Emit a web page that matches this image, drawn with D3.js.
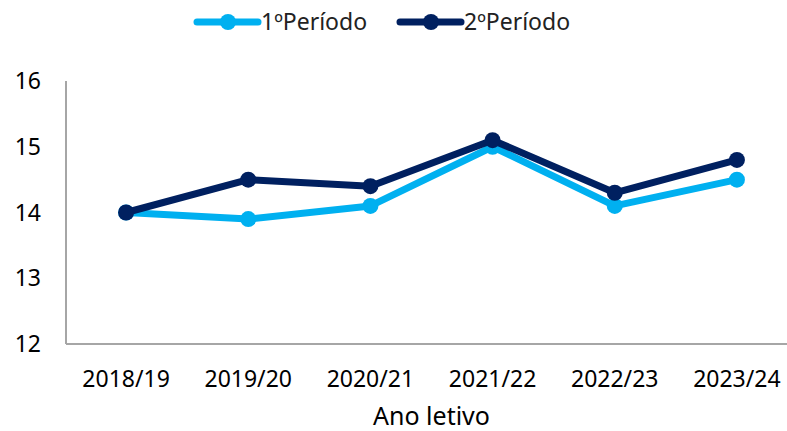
<!DOCTYPE html>
<html>
<head>
<meta charset="utf-8">
<script src="https://cdn.jsdelivr.net/npm/d3@7"></script>
<style>
  body { margin: 0; background: #fff; }
  svg { display: block; font-family: "Noto Sans", "Open Sans", sans-serif; }
</style>
</head>
<body>
<svg width="787" height="431"></svg>
<script>
const years = ["2018/19", "2019/20", "2020/21", "2021/22", "2022/23", "2023/24"]
const periodo1 = [14.0, 13.9, 14.1, 15.0, 14.1, 14.5]
const periodo2 = [14.0, 14.5, 14.4, 15.1, 14.3, 14.8]
const yTicks = [12, 13, 14, 15, 16]
const seriesNames = ["1ºPeríodo", "2ºPeríodo"]
const seriesColors = ["#00B0F0", "#002060"]

const svg = d3.select("svg")
const plot = {left: 66, right: 798, top: 81, bottom: 344}

const x = d3.scaleBand().domain(years).range([plot.left - 1, plot.right])
const y = d3.scaleLinear().domain([12, 16]).range([plot.bottom, plot.top])

// axis lines
svg.append("line")
    .attr("x1", plot.left).attr("x2", plot.left)
    .attr("y1", y(16)).attr("y2", y(12))
    .attr("stroke", "#a6a6a6").attr("stroke-width", 2)
svg.append("line")
    .attr("x1", plot.left).attr("x2", 787)
    .attr("y1", y(12)).attr("y2", y(12))
    .attr("stroke", "#a6a6a6").attr("stroke-width", 2)

// y tick labels
svg.selectAll(".ytick")
    .data(yTicks)
    .enter().append("text")
    .attr("class", "ytick")
    .attr("x", 41)
    .attr("y", d => y(d))
    .attr("dy", "0.35em")
    .attr("text-anchor", "end")
    .attr("fill", "#000")
    .style("font-size", "23px")
    .text(d => d)

// x tick labels
svg.selectAll(".xtick")
    .data(years)
    .enter().append("text")
    .attr("class", "xtick")
    .attr("x", d => x(d) + x.bandwidth() / 2)
    .attr("y", 379)
    .attr("dy", "0.35em")
    .attr("text-anchor", "middle")
    .attr("fill", "#000")
    .style("font-size", "23px")
    .text(d => d)

svg.append("text")
    .attr("x", (plot.left - 1 + plot.right) / 2)
    .attr("y", 416)
    .attr("dy", "0.35em")
    .attr("text-anchor", "middle")
    .attr("fill", "#000")
    .style("font-size", "25px")
    .text("Ano letivo")

const line = d3.line()
    .x((d, i) => x(years[i]) + x.bandwidth() / 2)
    .y(d => y(d))

const series = [periodo1, periodo2]

series.forEach((vals, s) => {
    const g = svg.append("g")
    g.append("path")
        .datum(vals)
        .attr("d", line)
        .attr("fill", "none")
        .attr("stroke", seriesColors[s])
        .attr("stroke-width", 7)
        .attr("stroke-linejoin", "round")
    g.selectAll("circle")
        .data(vals)
        .enter().append("circle")
        .attr("cx", (d, i) => x(years[i]) + x.bandwidth() / 2)
        .attr("cy", d => y(d))
        .attr("r", 8)
        .attr("fill", seriesColors[s])
})

// legend
const legendX = [197, 400]
seriesNames.forEach((name, s) => {
    const lg = svg.append("g").attr("transform", `translate(${legendX[s]},22)`)
    lg.append("line")
        .attr("x1", 0).attr("x2", 61)
        .attr("stroke", seriesColors[s])
        .attr("stroke-width", 7)
        .attr("stroke-linecap", "round")
    lg.append("circle")
        .attr("cx", 31).attr("r", 8)
        .attr("fill", seriesColors[s])
    lg.append("text")
        .attr("x", 64)
        .attr("dy", "0.35em")
        .attr("fill", "#222")
        .style("font-size", "23px")
        .text(name)
})
</script>
</body>
</html>
